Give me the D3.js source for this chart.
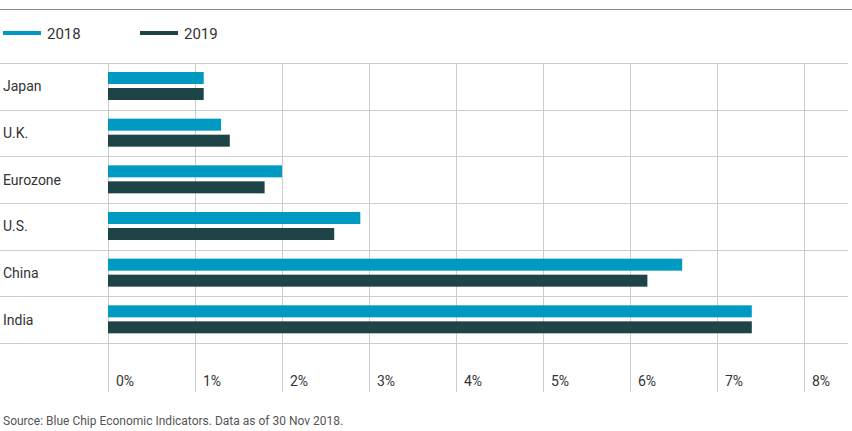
<!DOCTYPE html><html><head><meta charset="utf-8">
<script src="https://cdn.jsdelivr.net/npm/d3@7"></script>
<style>body{margin:0;background:#fff}text{font-family:"Liberation Sans Narrow","Roboto","Noto Sans",sans-serif}</style>
</head><body><svg id="c" width="852" height="431"></svg>
<script>
const categories=["Japan","U.K.","Eurozone","U.S.","China","India"];
const series2018=[1.1,1.3,2.0,2.9,6.6,7.4];
const series2019=[1.1,1.4,1.8,2.6,6.2,7.4];
const ticks=[0,1,2,3,4,5,6,7,8];
const seriesNames=["2018","2019"];
const colors=["#0099c2","#1e4448"];
const svg=d3.select("#c");
const x=d3.scaleLinear().domain([0,8]).range([108,804]);
const y=d3.scaleBand().domain(categories).range([63,343]);
svg.append("line").attr("x1",0).attr("x2",852).attr("y1",9.5).attr("y2",9.5).attr("stroke","#888");
seriesNames.forEach((n,i)=>{const lx=i?140:3;
 svg.append("line").attr("x1",lx).attr("x2",lx+38).attr("y1",33).attr("y2",33).attr("stroke",colors[i]).attr("stroke-width",4);
 svg.append("text").attr("x",lx+44).attr("y",38.5).attr("font-size",15).attr("fill","#333").text(n);});
ticks.forEach(t=>{svg.append("line").attr("x1",x(t)+.5).attr("x2",x(t)+.5).attr("y1",63).attr("y2",392).attr("stroke","#ccc");
 svg.append("text").attr("x",x(t)+17).attr("y",386).attr("text-anchor","middle").attr("font-size",14).attr("fill","#333").text(t+"%");});
categories.concat(["_end"]).forEach((c,i)=>{const yy=63+i*y.step();
 svg.append("line").attr("x1",0).attr("x2",848).attr("y1",Math.round(yy)+.5).attr("y2",Math.round(yy)+.5).attr("stroke","#ccc");});
categories.forEach((c,i)=>{const y0=y(c);
 svg.append("text").attr("x",3).attr("y",y0+y.bandwidth()/2+5).attr("font-size",14).attr("fill","#333").text(c);
 [series2018,series2019].forEach((s,j)=>svg.append("rect").attr("x",x(0)).attr("y",y0+9+j*16).attr("width",x(s[i])-x(0)).attr("height",12).attr("fill",colors[j]));});
svg.append("text").attr("x",3).attr("y",425).attr("font-size",12).attr("fill","#555").text("Source: Blue Chip Economic Indicators. Data as of 30 Nov 2018.");
</script></body></html>
